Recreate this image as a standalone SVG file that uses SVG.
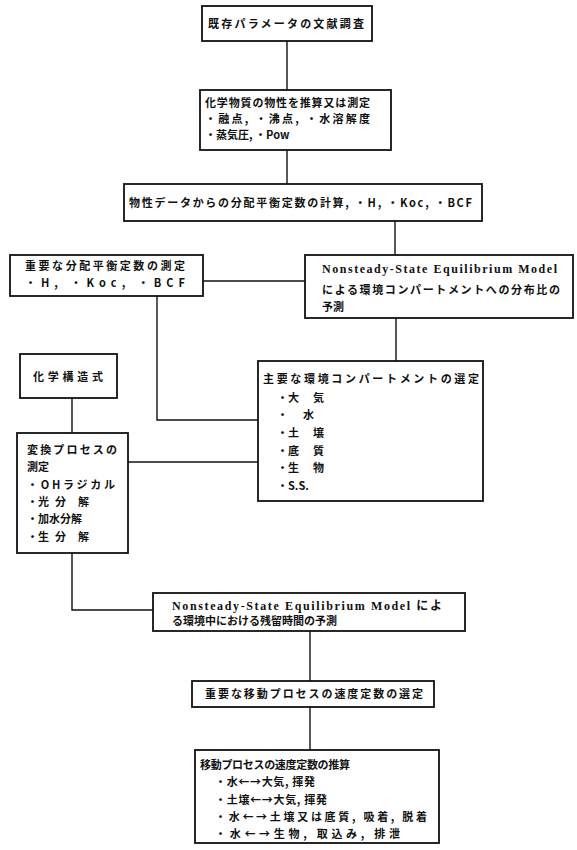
<svg xmlns="http://www.w3.org/2000/svg" width="577" height="850" viewBox="0 0 577 850">
<style>
  .box { fill: #ffffff; stroke: #111111; stroke-width: 1.8; }
  .ln { fill: none; stroke: #111111; stroke-width: 1.4; }
  text { font-family: "Noto Sans CJK JP", "Noto Sans", sans-serif; font-size: 11px; font-weight: 700; fill: #111111; }
  .lat { font-family: "Liberation Serif", "Noto Sans CJK JP", serif; font-size: 12px; }
</style>
<rect width="577" height="850" fill="#ffffff"/>
<g id="connectors">
  <path class="ln" d="M287 41 V90"/>
  <path class="ln" d="M287 150 V184"/>
  <path class="ln" d="M395 221 V255"/>
  <path class="ln" d="M203 281 H305"/>
  <path class="ln" d="M157 296 V420 H258"/>
  <path class="ln" d="M396 318 V361"/>
  <path class="ln" d="M72 398 V433"/>
  <path class="ln" d="M128 462 H258"/>
  <path class="ln" d="M72 553 V610 H153"/>
  <path class="ln" d="M310 631 V681"/>
  <path class="ln" d="M310 707 V750"/>
</g>
<g id="n1">
  <rect class="box" x="202" y="6" width="170" height="35"/>
  <text x="208" y="28" font-size="12" textLength="156" lengthAdjust="spacing">既存パラメータの文献調査</text>
</g>
<g id="n2">
  <rect class="box" x="200" y="90" width="191" height="60"/>
  <text x="205" y="107" textLength="165" lengthAdjust="spacing">化学物質の物性を推算又は測定</text>
  <text x="205" y="123" textLength="165" lengthAdjust="spacing">・融点, ・沸点, ・水溶解度</text>
  <text x="205" y="139">・蒸気圧, ・Pow</text>
</g>
<g id="n3">
  <rect class="box" x="124" y="184" width="358" height="37"/>
  <text x="129" y="207" textLength="343" lengthAdjust="spacing">物性データからの分配平衡定数の計算, ・H, ・Koc, ・BCF</text>
</g>
<g id="n4">
  <rect class="box" x="10" y="255" width="193" height="41"/>
  <text x="25" y="270" textLength="160" lengthAdjust="spacing">重要な分配平衡定数の測定</text>
  <text x="25" y="287" textLength="160" lengthAdjust="spacing">・H, ・Koc,  ・BCF</text>
</g>
<g id="n5">
  <rect class="box" x="305" y="255" width="268" height="63"/>
  <text class="lat" x="322" y="273" textLength="235" lengthAdjust="spacing">Nonsteady-State Equilibrium Model</text>
  <text x="322" y="294" textLength="238" lengthAdjust="spacing">による環境コンパートメントへの分布比の</text>
  <text x="322" y="311">予測</text>
</g>
<g id="n6">
  <rect class="box" x="20" y="354" width="97" height="44"/>
  <text x="33" y="381" textLength="70" lengthAdjust="spacing">化学構造式</text>
</g>
<g id="n7">
  <rect class="box" x="258" y="361" width="225" height="140"/>
  <text x="263" y="383" textLength="216" lengthAdjust="spacing">主要な環境コンパートメントの選定</text>
  <text x="277" y="402">・大<tspan x="313">気</tspan></text>
  <text x="277" y="419">・<tspan x="303">水</tspan></text>
  <text x="277" y="437">・土<tspan x="313">壌</tspan></text>
  <text x="277" y="455">・底<tspan x="313">質</tspan></text>
  <text x="277" y="472">・生<tspan x="313">物</tspan></text>
  <text x="277" y="490">・S.S.</text>
</g>
<g id="n8">
  <rect class="box" x="17" y="433" width="111" height="120"/>
  <text x="27" y="454" textLength="90" lengthAdjust="spacing">変換プロセスの</text>
  <text x="27" y="471">測定</text>
  <text x="27" y="489" textLength="88" lengthAdjust="spacing">・OHラジカル</text>
  <text x="27" y="506">・光<tspan x="55">分</tspan><tspan x="78">解</tspan></text>
  <text x="27" y="523">・加水分解</text>
  <text x="27" y="541">・生<tspan x="55">分</tspan><tspan x="78">解</tspan></text>
</g>
<g id="n9">
  <rect class="box" x="153" y="593" width="312" height="38"/>
  <text class="lat" x="172" y="610" textLength="270" lengthAdjust="spacing">Nonsteady-State  Equilibrium  Model によ</text>
  <text x="172" y="625">る環境中における残留時間の予測</text>
</g>
<g id="n10">
  <rect class="box" x="192" y="681" width="242" height="26"/>
  <text x="205" y="698" textLength="218" lengthAdjust="spacing">重要な移動プロセスの速度定数の選定</text>
</g>
<g id="n11">
  <rect class="box" x="195" y="750" width="244" height="93"/>
  <text x="200" y="769" textLength="150" lengthAdjust="spacing">移動プロセスの速度定数の推算</text>
  <text x="215" y="786" textLength="100" lengthAdjust="spacing">・水←→大気, 揮発</text>
  <text x="215" y="804" textLength="112" lengthAdjust="spacing">・土壌←→大気, 揮発</text>
  <text x="215" y="821" textLength="212" lengthAdjust="spacing">・水←→土壌又は底質, 吸着, 脱着</text>
  <text x="215" y="838" textLength="185" lengthAdjust="spacing">・水←→生物, 取込み, 排泄</text>
</g>
</svg>
